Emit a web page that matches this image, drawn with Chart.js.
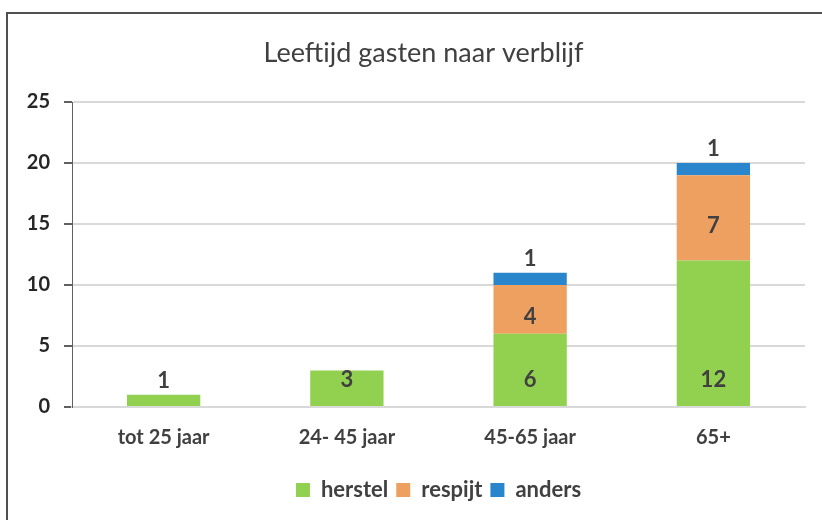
<!DOCTYPE html>
<html>
<head>
<meta charset="utf-8">
<script src="https://cdn.jsdelivr.net/npm/chart.js@4"></script>
<style>
  body { margin: 0; background: #fff; }
  #wrap { position: relative; width: 822px; height: 520px; overflow: hidden; }
  #frame { position: absolute; left: 6px; top: 12px; width: 900px; height: 600px; border: 2px solid #505050; }
  canvas { position: absolute; left: 0; top: 0; }
</style>
</head>
<body>
<div id="wrap">
  <div id="frame"></div>
  <canvas id="ageChart" width="822" height="520"></canvas>
</div>
<script>
// leeftijdscategorieen en aantallen per soort verblijf
const categories = ['tot 25 jaar', '24- 45 jaar', '45-65 jaar', '65+'];
const herstel = [1, 3, 6, 12];
const respijt = [0, 0, 4, 7];
const anders = [0, 0, 1, 1];
const yTicks = [0, 5, 10, 15, 20, 25];
const titel = 'Leeftijd gasten naar verblijf';

const FONT = 'Lato, "Open Sans", sans-serif';
const TEXT = '#404040';

// eigen plugin: titel boven het plotvlak en de getallen in/boven de balken
const barLabels = {
    id: 'barLabels',
    afterDatasetsDraw(chart, args, opts) {
        const ctx = chart.ctx;
        ctx.save();
        ctx.fillStyle = TEXT;
        ctx.textAlign = 'center';
        ctx.textBaseline = 'middle';

        const area = chart.chartArea;
        ctx.font = '27px ' + FONT;
        ctx.fillText(titel, (area.left + area.right) / 2 - 15, 53);

        ctx.font = 'bold 22px ' + FONT;
        chart.data.datasets.forEach((ds, i) => {
            const meta = chart.getDatasetMeta(i);
            meta.data.forEach((bar, j) => {
                const v = ds.data[j];
                if (!v) return;
                const h = bar.base - bar.y;
                let y;
                const pos = opts.positions[i];
                if (pos === 'top' || h < 24) {
                    y = bar.y - 14;
                } else if (pos === 'base') {
                    y = bar.base - 26;
                } else {
                    y = (bar.y + bar.base) / 2 + 8;
                }
                ctx.fillText(String(v), bar.x, y);
            });
        });
        ctx.restore();
    }
};

new Chart(document.getElementById('ageChart'), {
    type: 'bar',
    data: {
        labels: categories,
        datasets: [
            { label: 'herstel', data: herstel, backgroundColor: '#92D050' },
            { label: 'respijt', data: respijt, backgroundColor: '#EEA060' },
            { label: 'anders', data: anders, backgroundColor: '#2A86CC' }
        ]
    },
    plugins: [barLabels],
    options: {
        responsive: false,
        animation: false,
        layout: { padding: { left: 0, right: 17, top: 102, bottom: 9 } },
        datasets: { bar: { barPercentage: 0.4, categoryPercentage: 1 } },
        scales: {
            x: {
                stacked: true,
                grid: { display: false, drawTicks: false },
                border: { color: '#d9d9d9', width: 2 },
                ticks: { color: TEXT, font: { family: FONT, size: 20, weight: 'bold' }, padding: 19 },
                afterFit(scale) { scale.height = 64; }
            },
            y: {
                stacked: true,
                min: 0,
                max: 25,
                afterBuildTicks(scale) { scale.ticks = yTicks.map(v => ({ value: v })); },
                grid: { color: '#d9d9d9', lineWidth: 2, tickLength: 8, tickColor: '#606060' },
                border: { color: '#606060', width: 1 },
                ticks: { color: '#262626', font: { family: FONT, size: 20, weight: 'bold' }, padding: 14 },
                afterFit(scale) { scale.width = 72; }
            }
        },
        plugins: {
            title: { display: false },
            legend: {
                position: 'bottom',
                fullSize: false,
                labels: {
                    color: TEXT,
                    font: { family: FONT, size: 22, weight: 'bold' },
                    boxWidth: 14,
                    boxHeight: 14,
                    padding: 8
                }
            },
            tooltip: { enabled: false },
            barLabels: { positions: ['base', 'center', 'top'] }
        }
    }
});
</script>
</body>
</html>
